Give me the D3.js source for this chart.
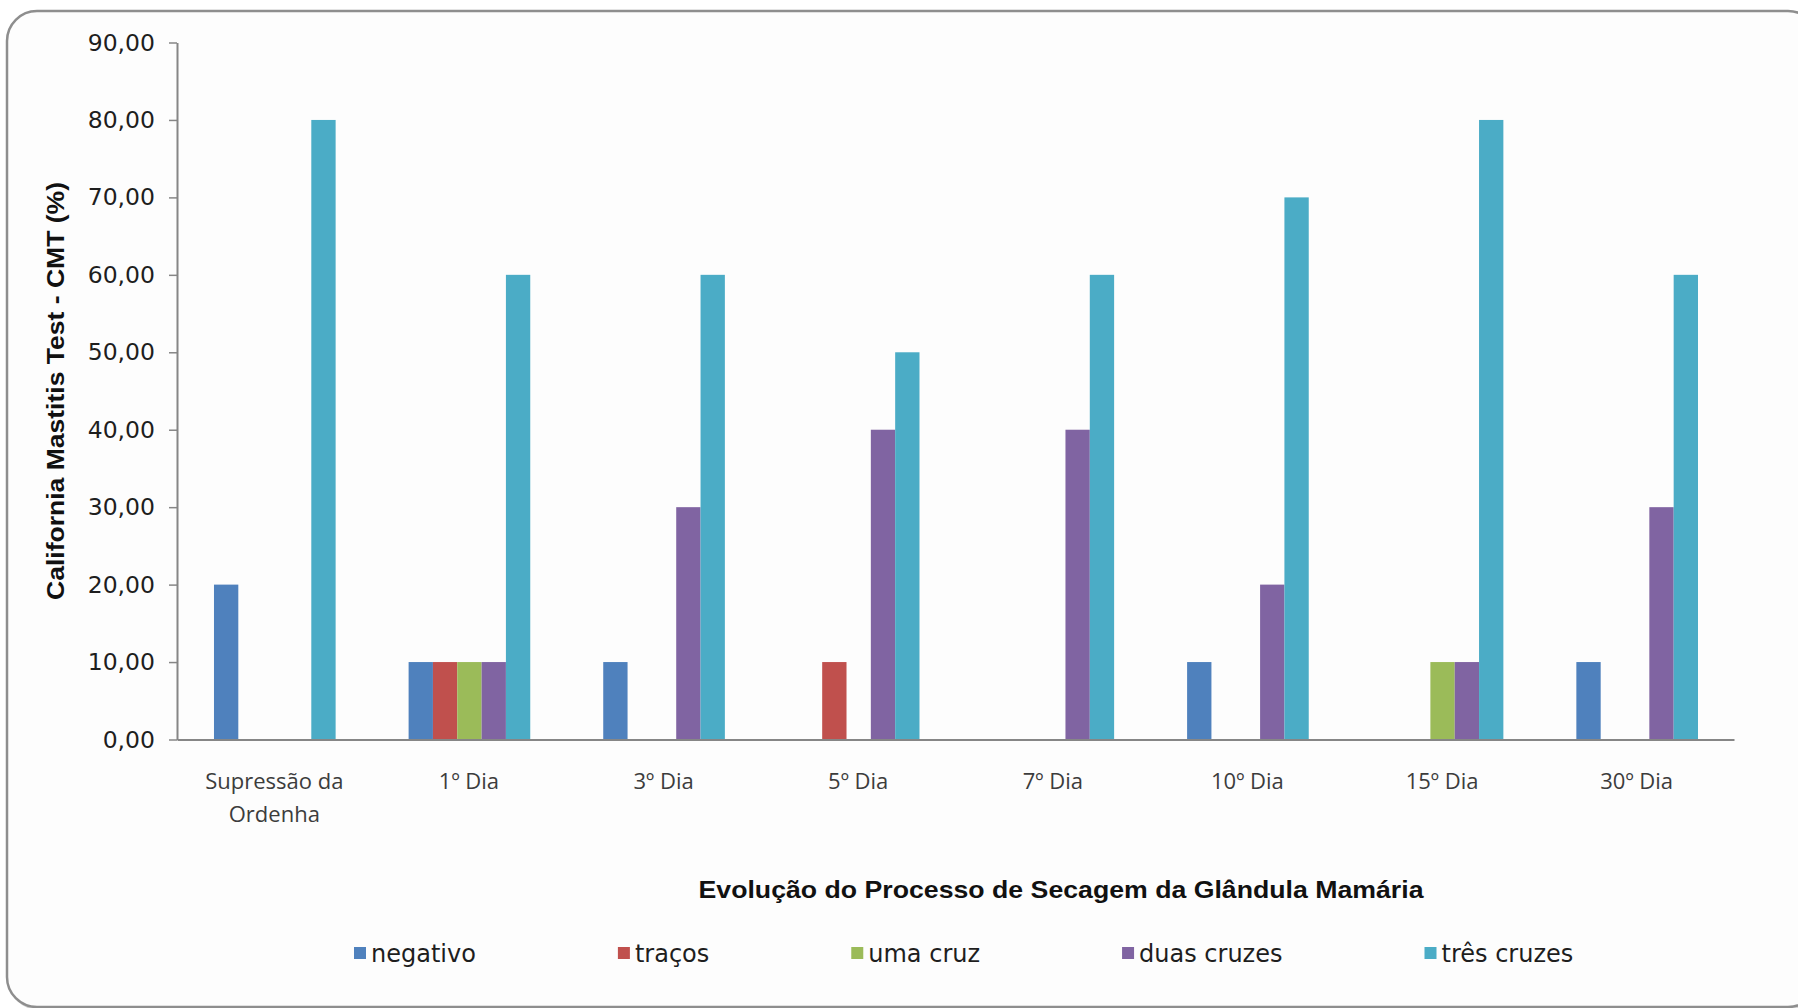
<!DOCTYPE html>
<html>
<head>
<meta charset="utf-8">
<script src="https://cdn.jsdelivr.net/npm/d3@7"></script>
<style>
  html, body { margin: 0; padding: 0; background: #ffffff; }
  svg { display: block; }
</style>
</head>
<body>
<svg id="chart" width="1798" height="1008"></svg>
<script>
// Evolução do CMT durante a secagem
const categories = ["Supressão da\nOrdenha", "1º Dia", "3º Dia", "5º Dia", "7º Dia", "10º Dia", "15º Dia", "30º Dia"];
const seriesNames = ["negativo", "traços", "uma cruz", "duas cruzes", "três cruzes"];
const seriesColors = ["#4F81BD", "#C0504D", "#9BBB59", "#8064A2", "#4BACC6"];

const negativo    = [20, 10, 10, 0, 0, 10, 0, 10];
const tracos      = [0, 10, 0, 10, 0, 0, 0, 0];
const umaCruz     = [0, 10, 0, 0, 0, 0, 10, 0];
const duasCruzes  = [0, 10, 30, 40, 40, 20, 10, 30];
const tresCruzes  = [80, 60, 60, 50, 60, 70, 80, 60];

const yTicks = [0, 10, 20, 30, 40, 50, 60, 70, 80, 90];

const yTitle = "California Mastitis Test - CMT (%)";
const xTitle = "Evolução do Processo de Secagem da Glândula Mamária";

const seriesValues = [negativo, tracos, umaCruz, duasCruzes, tresCruzes];

const svg = d3.select("#chart");

// outer rounded frame (slide panel)
svg.append("rect")
  .attr("x", 9).attr("y", 13)
  .attr("width", 1811).attr("height", 996)
  .attr("rx", 30).attr("ry", 30)
  .attr("fill", "none")
  .attr("stroke", "#d2d2d2")
  .attr("stroke-width", 2);
svg.append("rect")
  .attr("x", 7).attr("y", 11)
  .attr("width", 1811).attr("height", 996)
  .attr("rx", 30).attr("ry", 30)
  .attr("fill", "#fdfdfd")
  .attr("stroke", "#8e8e8e")
  .attr("stroke-width", 2.5);

const plot = { left: 177, right: 1734, top: 42.5, bottom: 739.5 };

const x0 = d3.scaleBand()
  .domain(categories)
  .range([plot.left, plot.right])
  .paddingInner(0).paddingOuter(0);

const bw = x0.bandwidth();
const x1 = d3.scaleBand()
  .domain(seriesNames)
  .range([bw * 0.19, bw * 0.815])
  .padding(0);

const y = d3.scaleLinear()
  .domain([0, 90])
  .range([plot.bottom, plot.top]);

// bars
const groups = svg.append("g")
  .selectAll("g")
  .data(categories)
  .join("g")
  .attr("transform", d => `translate(${x0(d)},0)`);

groups.selectAll("rect")
  .data((c, i) => seriesNames.map((s, k) => ({ s, k, v: seriesValues[k][i] })).filter(d => d.v > 0))
  .join("rect")
  .attr("x", d => x1(d.s))
  .attr("width", x1.bandwidth())
  .attr("y", d => y(d.v))
  .attr("height", d => y(0) - y(d.v))
  .attr("fill", d => seriesColors[d.k]);

// y axis
const fmt = v => d3.format(".2f")(v).replace(".", ",");
const yAxis = svg.append("g")
  .attr("transform", `translate(${plot.left},0)`)
  .call(d3.axisLeft(y).tickValues(yTicks).tickFormat(fmt).tickSize(8).tickSizeOuter(0).tickPadding(14));
yAxis.select(".domain").attr("stroke", "#868686").attr("stroke-width", 2);
yAxis.selectAll(".tick line").attr("stroke", "#868686").attr("stroke-width", 1.5);
yAxis.selectAll(".tick text")
  .attr("font-family", "DejaVu Sans")
  .attr("font-size", 23.5)
  .attr("fill", "#1e1e1e");

// x axis baseline
const xAxis = svg.append("g")
  .attr("transform", `translate(0,${plot.bottom})`)
  .call(d3.axisBottom(x0).tickSize(0).tickFormat(""));
xAxis.select(".domain").attr("stroke", "#868686").attr("stroke-width", 2);

// category labels (two lines where needed)
const catLabels = svg.append("g")
  .selectAll("text")
  .data(categories)
  .join("text")
  .attr("x", d => x0(d) + bw / 2)
  .attr("y", 789)
  .attr("text-anchor", "middle")
  .attr("font-family", "Open Sans")
  .attr("font-size", 22)
  .attr("fill", "#3c3c3c");
catLabels.each(function (d) {
  const t = d3.select(this);
  d.split("\n").forEach((line, i) => {
    t.append("tspan")
      .attr("x", x0(d) + bw / 2)
      .attr("dy", i === 0 ? 0 : 33)
      .text(line);
  });
});

// axis titles
const yt = svg.append("text")
  .attr("transform", `translate(56,${(plot.top + plot.bottom) / 2}) rotate(-90)`)
  .attr("text-anchor", "middle")
  .attr("dominant-baseline", "central")
  .attr("font-family", "Liberation Sans")
  .attr("font-weight", "bold")
  .attr("font-size", 23.5)
  .attr("fill", "#111")
  .text(yTitle);
yt.attr("textLength", 418).attr("lengthAdjust", "spacingAndGlyphs");

const xt = svg.append("text")
  .attr("x", 1061)
  .attr("y", 898)
  .attr("text-anchor", "middle")
  .attr("font-family", "Liberation Sans")
  .attr("font-weight", "bold")
  .attr("font-size", 24)
  .attr("fill", "#111")
  .text(xTitle);
xt.attr("textLength", 725).attr("lengthAdjust", "spacingAndGlyphs");

// legend, laid out left to right
const legend = svg.append("g");
let lx = 354;
seriesNames.forEach((name, k) => {
  const item = legend.append("g");
  item.append("rect")
    .attr("x", lx).attr("y", 947)
    .attr("width", 12).attr("height", 12)
    .attr("fill", seriesColors[k]);
  const t = item.append("text")
    .attr("x", lx + 17)
    .attr("y", 962)
    .attr("font-family", "DejaVu Sans")
    .attr("font-size", 24)
    .attr("fill", "#1e1e1e")
    .text(name);
  lx += 17 + t.node().getComputedTextLength() + 142;
});
</script>
</body>
</html>
